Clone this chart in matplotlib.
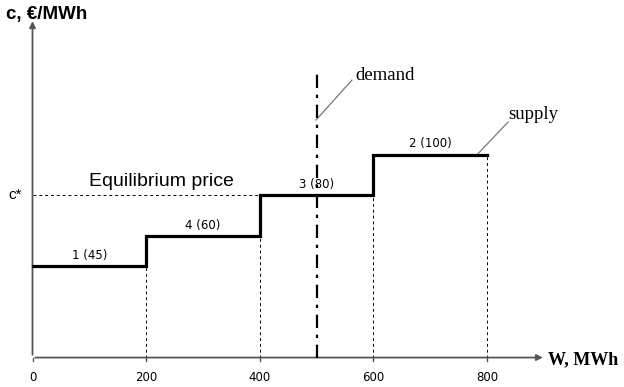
import numpy as np
import matplotlib.pyplot as plt

# supply bids: volume blocks and prices (sorted as merit order)
bid_labels = ["1 (45)", "4 (60)", "3 (80)", "2 (100)"]
bid_prices = [45, 60, 80, 100]
bid_volumes = [200, 200, 200, 200]
demand = 500
eq_price = 80
xticks = [0, 200, 400, 600, 800]

edges = np.concatenate([[0], np.cumsum(bid_volumes)])

fig = plt.figure(figsize=(6.24, 3.87), dpi=100)
ax = fig.add_axes([0, 0, 1, 1])
ax.set_xlim(-57.2, 1041)
ax.set_ylim(-14.5, 176.1)
ax.axis('off')

# axes with arrows
ax.annotate('', xy=(903, 0), xytext=(0, 0),
            arrowprops=dict(arrowstyle='-|>', color='#555555', lw=1.3, mutation_scale=9))
ax.annotate('', xy=(0, 167), xytext=(0, 0),
            arrowprops=dict(arrowstyle='-|>', color='#555555', lw=1.3, mutation_scale=9))

# tick marks and labels
for t in xticks:
    ax.plot([t, t], [0, -1.8], color='#555555', lw=1)
    ax.text(t, -9.6, str(t), ha='center', va='center', fontsize=8.5,
            family='Liberation Sans Narrow')

# supply step curve
xs = np.repeat(edges, 2)[1:-1]
ys = np.repeat(bid_prices, 2)
ax.plot(xs, ys, color='black', lw=2.3, solid_joinstyle='miter', zorder=3)

# dashed drop lines
for x, p in zip(edges[1:], bid_prices):
    ax.plot([x, x], [0, p], color='black', lw=0.7, ls=(0, (3, 3)))
ax.plot([0, edges[2]], [eq_price, eq_price], color='black', lw=0.7, ls=(0, (3, 3)))

# demand line
ax.plot([demand, demand], [0, 140.6], color='black', lw=1.6, ls=(0, (6, 3, 1.5, 3)), zorder=4)

# bid labels
for i, lab in enumerate(bid_labels):
    mid = (edges[i] + edges[i + 1]) / 2
    ax.text(mid, bid_prices[i] + 2, lab, ha='center', va='bottom', fontsize=8.5,
            family='Liberation Sans Narrow')

ax.text(-42, eq_price, 'c*', ha='left', va='center', fontsize=11, family='Liberation Sans')
ax.text(227, 86.9, 'Equilibrium price', ha='center', va='center', fontsize=14,
        family='Liberation Sans')

# annotations with leader lines
ax.plot([562, 499], [136.6, 117], color='#777777', lw=0.9)
ax.text(620, 139, 'demand', ha='center', va='center', fontsize=13.5, family='Liberation Serif')
ax.plot([837, 781], [116, 99.5], color='#777777', lw=0.9)
ax.text(882, 119.7, 'supply', ha='center', va='center', fontsize=13.5, family='Liberation Serif')

ax.text(-46, 169, 'c, €/MWh', ha='left', va='center', fontsize=13.5, weight='bold',
        family='Liberation Sans')
ax.text(907, -1.2, 'W, MWh', ha='left', va='center', fontsize=13, weight='bold',
        family='Liberation Serif')

fig.savefig('out.png', dpi=100)
